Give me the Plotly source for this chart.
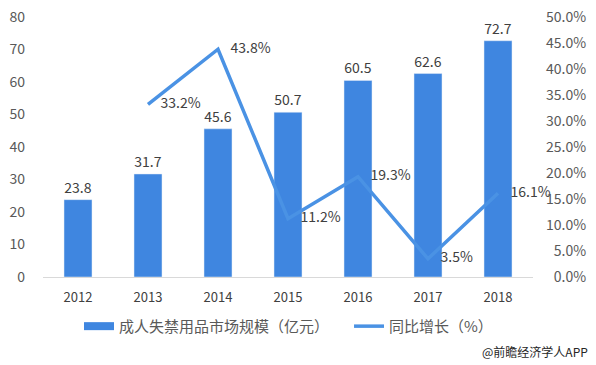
import plotly.graph_objects as go

years = ["2012", "2013", "2014", "2015", "2016", "2017", "2018"]
market = [23.8, 31.7, 45.6, 50.7, 60.5, 62.6, 72.7]
growth_years = ["2013", "2014", "2015", "2016", "2017", "2018"]
growth = [33.2, 43.8, 11.2, 19.3, 3.5, 16.1]
left_ticks = [0, 10, 20, 30, 40, 50, 60, 70, 80]
right_ticks = [0, 5, 10, 15, 20, 25, 30, 35, 40, 45, 50]

FONT = "Noto Sans CJK SC"
BAR = "#3f86e0"
LINE = "#4a92e4"

fig = go.Figure()
fig.add_trace(go.Bar(
    x=years, y=market, name="成人失禁用品市场规模（亿元）",
    marker_color=BAR, showlegend=False,
    text=[f"{v:.1f}" for v in market], textposition="outside",
    textfont=dict(size=14, color="#404040", family=FONT),
    cliponaxis=False,
))
# legend entry for the bars (wide rectangle swatch)
fig.add_trace(go.Scatter(
    x=[None], y=[None], name="成人失禁用品市场规模（亿元）\u2003",
    mode="lines", line=dict(color=BAR, width=8), showlegend=True,
))
fig.add_trace(go.Scatter(
    x=growth_years, y=growth, name="同比增长（%）", yaxis="y2",
    mode="lines+text", line=dict(color=LINE, width=3.5),
    text=[f"    {v:.1f}%" for v in growth],
    textposition="middle right",
    textfont=dict(size=14, color="#404040", family=FONT),
    cliponaxis=False,
))

fig.update_layout(
    width=588, height=357,
    margin=dict(l=35, r=63, t=9, b=88, autoexpand=False),
    paper_bgcolor="white", plot_bgcolor="white",
    font=dict(family=FONT, size=12, color="#595959"),
    bargap=0.6,
    showlegend=True,
    legend=dict(orientation="h", x=0.0735, xanchor="left", y=-0.19, yanchor="middle",
                bgcolor="rgba(0,0,0,0)",
                font=dict(size=15, color="#595959"), tracegroupgap=0),
    xaxis=dict(showline=True, linecolor="#d9d9d9", linewidth=1, ticks="",
               automargin=False, ticklabelstandoff=8,
               tickfont=dict(size=13, color="#404040")),
    yaxis=dict(range=[0, 80], tickvals=left_ticks, showgrid=False, zeroline=False,
               automargin=False, ticklabeloverflow="allow",
               ticks="", ticklabelstandoff=17, tickfont=dict(size=14, color="#595959")),
    yaxis2=dict(range=[0, 50], tickvals=right_ticks, overlaying="y", side="right",
                showgrid=False, zeroline=False, automargin=False,
                ticklabeloverflow="allow",
                ticktext=[("\u2007" if v < 10 else "") + f"{v:.1f}%" for v in right_ticks],
                ticks="", ticklabelstandoff=12, tickfont=dict(size=14, color="#595959")),
    annotations=[dict(text="@前瞻经济学人APP", xref="paper", yref="paper",
                      x=1.116, y=-0.285, xanchor="right", yanchor="middle",
                      showarrow=False, font=dict(size=12, color="#262626", family=FONT))],
)

fig.write_html("out.html")
